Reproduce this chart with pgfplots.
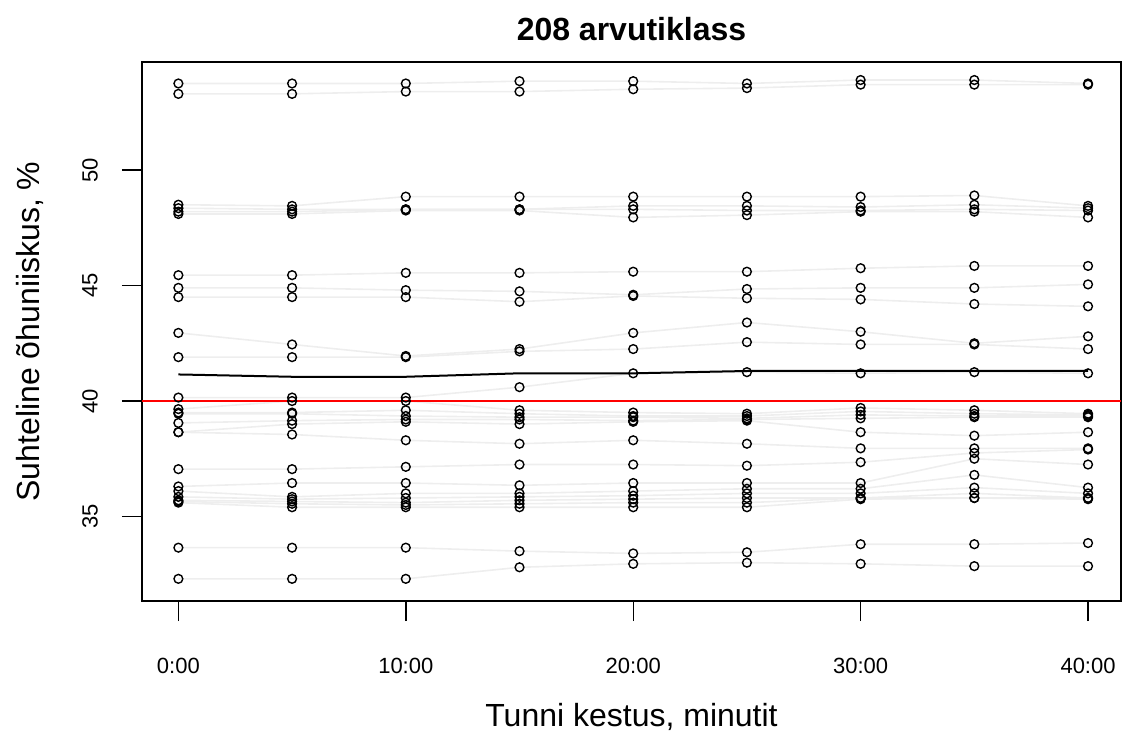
\documentclass[border=0pt]{standalone}
\usepackage{fontspec}
\setmainfont{Liberation Sans}
\usepackage{pgfplots}
\usepackage{pgfplotstable}
\pgfplotsset{compat=1.18}
\pgfplotstableread{
t s1 s2 s3 s4 s5 s6 s7 s8 s9 s10 s11 s12 s13 s14 s15 s16 s17 s18 s19 s20 s21 s22 s23 s24 s25 s26 s27 m
0 53.75 53.3 48.5 48.35 48.2 48.1 45.45 44.9 44.5 42.95 41.9 40.15 39.65 39.5 39.45 39.05 38.65 38.65 37.05 36.3 36.1 35.85 35.7 35.65 35.6 33.65 32.3 41.15
5 53.75 53.3 48.45 48.3 48.2 48.1 45.45 44.9 44.5 42.45 41.9 40.15 40.0 39.5 39.45 39.15 39.0 38.55 37.05 36.45 35.85 35.75 35.65 35.55 35.4 33.65 32.3 41.05
10 53.75 53.4 48.85 48.3 48.3 48.25 45.55 44.8 44.5 41.95 41.9 40.15 40.0 39.6 39.35 39.2 39.1 38.3 37.15 36.45 36.0 35.8 35.6 35.5 35.4 33.65 32.3 41.05
15 53.85 53.4 48.85 48.3 48.3 48.25 45.55 44.75 44.3 42.25 42.15 40.6 39.6 39.45 39.3 39.2 39.0 38.15 37.25 36.35 36.0 35.85 35.7 35.55 35.4 33.5 32.8 41.2
20 53.85 53.5 48.85 48.45 48.3 47.95 45.6 44.6 44.55 42.95 42.25 41.2 39.5 39.35 39.3 39.15 39.1 38.3 37.25 36.45 36.1 35.9 35.75 35.6 35.4 33.4 32.95 41.2
25 53.75 53.55 48.85 48.45 48.25 48.05 45.6 44.85 44.45 43.4 42.55 41.25 39.45 39.35 39.25 39.2 39.15 38.15 37.2 36.45 36.2 36.0 35.8 35.6 35.4 33.45 33.0 41.3
30 53.9 53.7 48.85 48.4 48.25 48.2 45.75 44.9 44.4 43.0 42.45 41.2 39.7 39.55 39.4 39.25 38.65 37.95 37.35 36.45 36.2 36.0 35.8 35.8 35.75 33.8 32.95 41.3
35 53.9 53.7 48.9 48.5 48.3 48.2 45.85 44.9 44.2 42.5 42.45 41.25 39.6 39.45 39.35 39.3 38.5 37.95 37.75 37.5 36.8 36.25 36.0 35.8 35.8 33.8 32.85 41.3
40 53.75 53.7 48.45 48.35 48.25 47.95 45.85 45.05 44.1 42.8 42.25 41.2 39.45 39.4 39.35 39.3 38.65 37.95 37.9 37.25 36.25 36.0 35.8 35.8 35.75 33.85 32.85 41.3
}\data
\begin{document}
\begin{tikzpicture}
\useasboundingbox (0,0) rectangle (561.5pt,368pt);
\begin{axis}[
  at={(71pt,67.5pt)}, anchor=south west,
  scale only axis, width=489.5pt, height=269.5pt,
  xmin=-1.6, xmax=41.45, ymin=31.34, ymax=54.68,
  xtick={0,10,20,30,40},
  xticklabels={0:00,10:00,20:00,30:00,40:00},
  ytick={35,40,45,50},
  tick pos=left, tick align=outside, major tick length=10pt,
  tick style={black, line width=0.7pt},
  axis line style={black, line width=0.8pt},
  /pgf/number format/assume math mode=true,
  x tick label style={font=\fontsize{11}{13}\selectfont, anchor=center, yshift=-22.5pt},
  y tick label style={font=\fontsize{11}{13}\selectfont, xshift=-16pt, rotate=90, anchor=center},
  title={\textbf{208 arvutiklass}},
  title style={font=\fontsize{16}{19}\selectfont, at={(axis description cs:0.5,1.0389)}, anchor=center},
  xlabel={Tunni kestus, minutit},
  xlabel style={font=\fontsize{16}{19}\selectfont, at={(axis description cs:0.5,-0.2152)}, anchor=center},
  ylabel={Suhteline õhuniiskus, \%},
  ylabel style={font=\fontsize{16}{19}\selectfont, at={(axis description cs:-0.1144,0.5)}, anchor=center},
  clip=true,
]
\pgfplotsinvokeforeach{1,...,27}{
  \addplot[gray!13, line width=0.8pt, no marks] table[x=t, y=s#1] {\data};
}
\addplot[red, line width=1pt, no marks] coordinates {(-1.6,40) (41.45,40)};
\addplot[black, line width=1pt, no marks] table[x=t, y=m] {\data};
\pgfplotsinvokeforeach{1,...,27}{
  \addplot[only marks, mark=o, mark size=2.2pt, mark options={black, line width=0.7pt}] table[x=t, y=s#1] {\data};
}
\end{axis}
\end{tikzpicture}
\end{document}
